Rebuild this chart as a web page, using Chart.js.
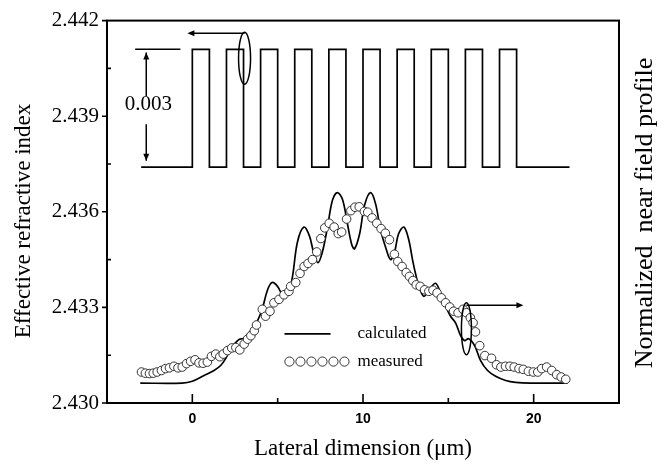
<!DOCTYPE html>
<html>
<head>
<meta charset="utf-8">
<script src="https://cdn.jsdelivr.net/npm/chart.js@4/dist/chart.umd.min.js"></script>
<style>
html,body{margin:0;padding:0;background:#fff;}
#wrap{width:668px;height:466px;position:relative;}
</style>
</head>
<body>
<div id="wrap"><canvas id="c" width="668" height="466"></canvas></div>
<script>
// ---- Data ----
// Refractive index profile: x positions of level changes and index values
const indexX = [-3, 0, 1, 2, 3, 4, 5, 6, 7, 8, 9, 10, 11, 12, 13, 14, 15, 16, 17, 18, 19, 22.1];
const indexY = [2.4374, 2.4411, 2.4374, 2.4411, 2.4374, 2.4411, 2.4374, 2.4411, 2.4374, 2.4411, 2.4374,
                2.4411, 2.4374, 2.4411, 2.4374, 2.4411, 2.4374, 2.4411, 2.4374, 2.4411, 2.4374, 2.4374];

// Calculated near field profile (normalized, arbitrary units)
const calcX = [-3.05, -0.59, 0.0, 0.69, 1.27, 1.66, 1.95, 2.25, 2.54, 2.76, 2.99, 3.28, 3.58, 3.81, 4.11, 4.40,
  4.67, 4.99, 5.34, 5.63, 5.87, 6.16, 6.54, 6.86, 7.10, 7.36, 7.62, 7.92, 8.21, 8.50, 8.80, 9.09, 9.33, 9.50,
  9.80, 10.09, 10.44, 10.73, 11.03, 11.32, 11.61, 11.85, 12.08, 12.39, 12.67, 12.90, 13.08, 13.31, 13.57,
  13.90, 14.25, 14.55, 14.84, 15.13, 15.43, 15.72, 15.95, 16.19, 16.54, 16.89, 17.30, 17.77, 18.36, 18.94,
  19.82, 21.99];
const calcY = [0.052, 0.052, 0.057, 0.072, 0.085, 0.098, 0.116, 0.142, 0.158, 0.167, 0.169, 0.181, 0.199, 0.214,
  0.248, 0.295, 0.315, 0.305, 0.279, 0.287, 0.331, 0.421, 0.460, 0.437, 0.395, 0.367, 0.395, 0.460, 0.530,
  0.550, 0.532, 0.468, 0.416, 0.403, 0.442, 0.517, 0.550, 0.522, 0.452, 0.408, 0.375, 0.395, 0.442, 0.460,
  0.429, 0.375, 0.338, 0.300, 0.279, 0.297, 0.313, 0.287, 0.253, 0.227, 0.209, 0.176, 0.163, 0.168, 0.150,
  0.111, 0.085, 0.070, 0.059, 0.054, 0.052, 0.052];

// Measured near field profile (normalized, arbitrary units)
const measX = [-2.98, -2.75, -2.51, -2.29, -2.06, -1.81, -1.57, -1.34, -1.08, -0.84, -0.59, -0.34, -0.10, 0.16,
  0.39, 0.63, 0.88, 1.12, 1.37, 1.61, 1.81, 2.06, 2.31, 2.55, 2.78, 3.04, 3.24, 3.43, 3.63, 3.76, 4.10, 4.29,
  4.55, 4.78, 5.08, 5.37, 5.66, 5.76, 6.06, 6.31, 6.55, 6.78, 7.04, 7.29, 7.53, 7.76, 8.02, 8.31, 8.55, 8.75,
  9.04, 9.29, 9.53, 9.78, 10.08, 10.28, 10.53, 10.81, 11.06, 11.31, 11.55, 11.84, 12.04, 12.29, 12.53, 12.72,
  12.92, 13.12, 13.35, 13.61, 13.86, 14.10, 14.34, 14.59, 14.84, 15.08, 15.31, 15.57, 15.86, 16.06, 16.29,
  16.45, 16.59, 16.84, 17.14, 17.53, 17.82, 18.08, 18.35, 18.61, 18.86, 19.14, 19.39, 19.69, 19.98, 20.24,
  20.47, 20.76, 21.06, 21.35, 21.61, 21.88];
const measY = [0.081, 0.078, 0.077, 0.078, 0.081, 0.085, 0.090, 0.092, 0.096, 0.092, 0.094, 0.103, 0.109, 0.113,
  0.105, 0.104, 0.107, 0.122, 0.128, 0.121, 0.128, 0.137, 0.144, 0.145, 0.139, 0.154, 0.167, 0.176, 0.189,
  0.204, 0.245, 0.227, 0.240, 0.262, 0.271, 0.283, 0.292, 0.305, 0.315, 0.339, 0.357, 0.365, 0.375, 0.395,
  0.430, 0.458, 0.470, 0.460, 0.443, 0.447, 0.481, 0.503, 0.512, 0.513, 0.501, 0.499, 0.484, 0.470, 0.456,
  0.444, 0.427, 0.389, 0.370, 0.357, 0.341, 0.331, 0.320, 0.309, 0.305, 0.296, 0.292, 0.295, 0.288, 0.275,
  0.262, 0.251, 0.240, 0.236, 0.245, 0.236, 0.223, 0.210, 0.186, 0.150, 0.124, 0.117, 0.100, 0.094, 0.096,
  0.096, 0.094, 0.090, 0.088, 0.083, 0.081, 0.081, 0.090, 0.094, 0.085, 0.074, 0.068, 0.062];

// Axis ticks
const xTickValues = [0, 10, 20];
const xMinorTicks = [5, 15];
const yTickValues = [2.430, 2.433, 2.436, 2.439, 2.442];
const yMinorTicks = [2.4315, 2.4345, 2.4375, 2.4405];

// Texts
const yTitle = 'Effective refractive index';
const y2Title = 'Normalized  near field profile';
const xTitle = 'Lateral dimension (\u03bcm)';
const seriesNames = ['calculated', 'measured'];
const stepLabel = '0.003';

// ---- Chart ----
const serif = "'Liberation Serif', 'Times New Roman', serif";
const sans = "'Liberation Sans', Arial, sans-serif";

function arrowHead(ctx, x, y, dir) {
  ctx.beginPath();
  const L = 7, W = 3;
  if (dir === 'left') { ctx.moveTo(x, y); ctx.lineTo(x + L, y - W); ctx.lineTo(x + L, y + W); }
  if (dir === 'right') { ctx.moveTo(x, y); ctx.lineTo(x - L, y - W); ctx.lineTo(x - L, y + W); }
  if (dir === 'up') { ctx.moveTo(x, y); ctx.lineTo(x - W, y + L); ctx.lineTo(x + W, y + L); }
  if (dir === 'down') { ctx.moveTo(x, y); ctx.lineTo(x - W, y - L); ctx.lineTo(x + W, y - L); }
  ctx.closePath();
  ctx.fill();
}

const decor = {
  id: 'decor',
  afterDraw(chart) {
    const { ctx, chartArea: ca, scales } = chart;
    const x = scales.x, y = scales.y;
    const px = v => x.getPixelForValue(v);
    const py = v => y.getPixelForValue(v);
    ctx.save();
    ctx.strokeStyle = '#000';
    ctx.fillStyle = '#000';
    // frame
    ctx.lineWidth = 2;
    ctx.strokeRect(ca.left, ca.top, ca.right - ca.left, ca.bottom - ca.top);
    // ticks
    ctx.lineWidth = 1.6;
    ctx.beginPath();
    yTickValues.forEach(v => { ctx.moveTo(ca.left - 5, py(v)); ctx.lineTo(ca.left, py(v)); });
    yMinorTicks.forEach(v => { ctx.moveTo(ca.left, py(v)); ctx.lineTo(ca.left + 4, py(v)); });
    xTickValues.forEach(v => { ctx.moveTo(px(v), ca.bottom); ctx.lineTo(px(v), ca.bottom - 9); });
    xMinorTicks.forEach(v => { ctx.moveTo(px(v), ca.bottom); ctx.lineTo(px(v), ca.bottom - 5); });
    ctx.stroke();

    // 0.003 annotation
    ctx.lineWidth = 1.5;
    ctx.beginPath();
    ctx.moveTo(px(-3.35), py(2.4411)); ctx.lineTo(px(-0.7), py(2.4411));
    const ax = px(-2.7);
    ctx.moveTo(ax, py(2.4410)); ctx.lineTo(ax, py(2.43963));
    ctx.moveTo(ax, py(2.43875)); ctx.lineTo(ax, py(2.4376));
    ctx.stroke();
    arrowHead(ctx, ax, py(2.4410), 'up');
    arrowHead(ctx, ax, py(2.4376), 'down');
    ctx.font = '21px ' + serif;
    ctx.textAlign = 'center';
    ctx.textBaseline = 'middle';
    ctx.fillText(stepLabel, px(-2.58), py(2.43936));

    // ellipse + arrow (index -> left axis)
    ctx.beginPath();
    ctx.ellipse(px(3.06), py(2.44082), 6, 26, 0, 0, Math.PI * 2);
    ctx.stroke();
    ctx.beginPath();
    ctx.moveTo(px(3.06), py(2.4416)); ctx.lineTo(px(-0.1), py(2.4416));
    ctx.stroke();
    arrowHead(ctx, px(-0.29), py(2.4416), 'left');

    // ellipse + arrow (profile -> right axis)
    ctx.beginPath();
    ctx.ellipse(px(16.06), py(2.43233), 5, 26, 0, 0, Math.PI * 2);
    ctx.stroke();
    ctx.beginPath();
    ctx.moveTo(px(16.06), py(2.43307)); ctx.lineTo(px(19.2), py(2.43307));
    ctx.stroke();
    arrowHead(ctx, px(19.4), py(2.43307), 'right');

    // legend
    ctx.lineWidth = 1.8;
    ctx.beginPath();
    ctx.moveTo(px(5.4), py(2.43217)); ctx.lineTo(px(8.1), py(2.43217));
    ctx.stroke();
    ctx.lineWidth = 1;
    ctx.strokeStyle = '#333';
    for (let i = 0; i < 6; i++) {
      ctx.beginPath();
      ctx.arc(px(5.69) + i * 11, py(2.4313), 4.6, 0, Math.PI * 2);
      ctx.fillStyle = '#fff'; ctx.fill(); ctx.stroke();
    }
    ctx.fillStyle = '#000';
    ctx.font = '17px ' + serif;
    ctx.textAlign = 'left';
    ctx.fillText(seriesNames[0], px(9.68), py(2.43217));
    ctx.fillText(seriesNames[1], px(9.68), py(2.4313));

    // axis titles
    ctx.font = '23px ' + serif;
    ctx.textAlign = 'center';
    ctx.textBaseline = 'middle';
    ctx.fillText(xTitle, (ca.left + ca.right) / 2, 449);
    ctx.save();
    ctx.translate(24, 221);
    ctx.rotate(-Math.PI / 2);
    ctx.fillText(yTitle, 0, 0);
    ctx.restore();
    ctx.save();
    ctx.font = '26px ' + serif;
    ctx.translate(645, 213);
    ctx.rotate(-Math.PI / 2);
    ctx.fillText(y2Title, 0, 0);
    ctx.restore();
    ctx.restore();
  }
};

new Chart(document.getElementById('c'), {
  type: 'scatter',
  data: {
    datasets: [
      {
        label: seriesNames[1],
        data: measX.map((v, i) => ({ x: v, y: measY[i] })),
        yAxisID: 'y2',
        showLine: false,
        pointStyle: 'circle',
        pointRadius: 4.3,
        pointBackgroundColor: '#fff',
        pointBorderColor: '#333',
        pointBorderWidth: 1,
        order: 0
      },
      {
        label: seriesNames[0],
        data: calcX.map((v, i) => ({ x: v, y: calcY[i] })),
        yAxisID: 'y2',
        showLine: true,
        borderColor: '#000',
        borderWidth: 1.7,
        pointRadius: 0,
        tension: 0.35,
        order: 1
      },
      {
        label: 'index',
        data: indexX.map((v, i) => ({ x: v, y: indexY[i] })),
        yAxisID: 'y',
        showLine: true,
        stepped: 'before',
        borderColor: '#000',
        borderWidth: 1.7,
        pointRadius: 0,
        order: 2
      }
    ]
  },
  options: {
    responsive: false,
    animation: false,
    layout: { padding: { top: 16, right: 49, left: 0, bottom: 0 } },
    plugins: { legend: { display: false }, tooltip: { enabled: false } },
    scales: {
      x: {
        type: 'linear',
        min: -5, max: 25,
        grid: { display: false, drawTicks: false },
        border: { display: false },
        afterBuildTicks: s => { s.ticks = xTickValues.map(v => ({ value: v })); },
        afterFit: s => { s.height = 63; },
        ticks: { padding: 8, color: '#000', font: { family: sans, size: 14, weight: 'bold' }, maxRotation: 0 }
      },
      y: {
        type: 'linear',
        min: 2.430, max: 2.442,
        grid: { display: false, drawTicks: false },
        border: { display: false },
        afterBuildTicks: s => { s.ticks = yTickValues.map(v => ({ value: v })); },
        afterFit: s => { s.width = 107; },
        ticks: { padding: 8, color: '#000', font: { family: serif, size: 21 }, callback: v => v.toFixed(3) }
      },
      y2: {
        type: 'linear',
        position: 'right',
        min: 0, max: 1,
        display: false
      }
    }
  },
  plugins: [decor]
});
</script>
</body>
</html>
